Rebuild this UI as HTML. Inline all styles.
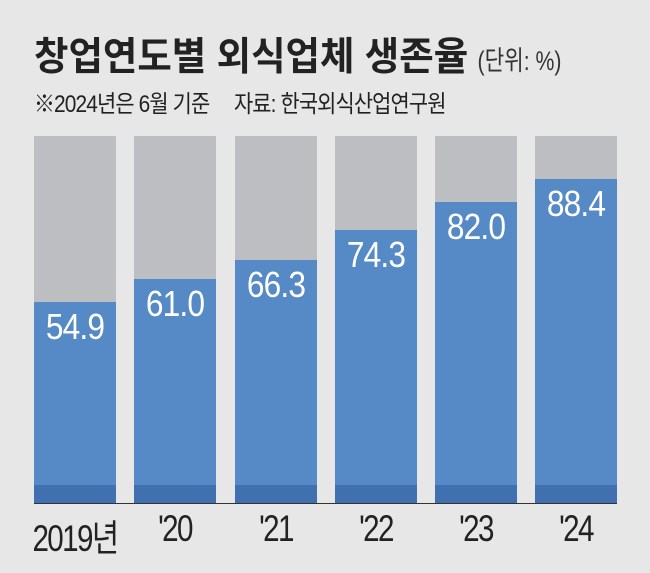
<!DOCTYPE html>
<html><head><meta charset="utf-8"><style>
body{margin:0;width:650px;height:573px;background:#e7e7e8;overflow:hidden;position:relative;font-family:"Liberation Sans","Noto Sans CJK KR",sans-serif}
.t{position:absolute;left:34px;top:26px;font-size:39px;font-weight:bold;color:#222;letter-spacing:0px;white-space:nowrap;transform:scaleX(0.96);transform-origin:left top}
.u{font-size:27px;font-weight:normal;color:#333;margin-left:10px;display:inline-block;transform:scaleX(0.82);transform-origin:left}
.s{position:absolute;left:34px;top:84px;font-size:24px;color:#222;letter-spacing:-1px;white-space:pre;transform:scaleX(0.87);transform-origin:left top}
.bar{position:absolute;top:136px;width:82px;height:367px;background:#bdbec1}
.b{position:absolute;left:0;bottom:0;width:100%;background:#558ac6}
.d{position:absolute;left:0;bottom:0;width:100%;height:18px;background:#4070b0}
.v{position:absolute;left:0;width:100%;text-align:center;color:#fff;font-size:36px;top:4px;letter-spacing:-1px;transform:scaleX(0.88)}
.line{position:absolute;left:34px;top:503px;width:583px;height:1px;background:#333}
.l{position:absolute;top:508px;width:120px;text-align:center;font-size:37px;color:#222;letter-spacing:-2px;white-space:nowrap;transform:scaleX(0.8)}
</style></head><body>
<div class="t">창업연도별 외식업체 생존율<span class="u">(단위: %)</span></div>
<div class="s">※2024년은 6월 기준     자료: 한국외식산업연구원</div>
<div class="bar" style="left:34px"><div class="b" style="height:201px"><div class="v">54.9</div></div><div class="d"></div></div>
<div class="bar" style="left:134px"><div class="b" style="height:224px"><div class="v">61.0</div></div><div class="d"></div></div>
<div class="bar" style="left:235px"><div class="b" style="height:243px"><div class="v">66.3</div></div><div class="d"></div></div>
<div class="bar" style="left:335px"><div class="b" style="height:273px"><div class="v">74.3</div></div><div class="d"></div></div>
<div class="bar" style="left:435px"><div class="b" style="height:301px"><div class="v">82.0</div></div><div class="d"></div></div>
<div class="bar" style="left:535px"><div class="b" style="height:324px"><div class="v">88.4</div></div><div class="d"></div></div>
<div class="line"></div>
<div class="l" style="left:15px">2019년</div>
<div class="l" style="left:115px">'20</div>
<div class="l" style="left:216px">'21</div>
<div class="l" style="left:316px">'22</div>
<div class="l" style="left:416px">'23</div>
<div class="l" style="left:516px">'24</div>
</body></html>
